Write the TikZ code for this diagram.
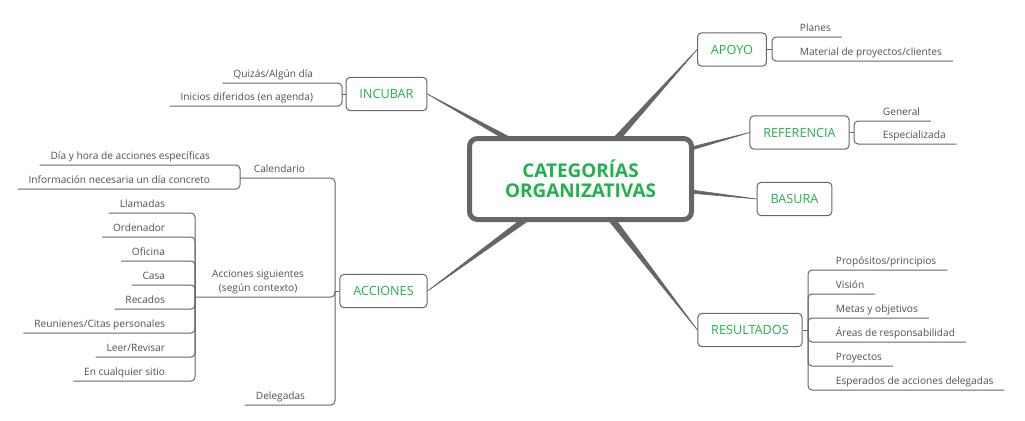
\documentclass[tikz,border=0pt]{standalone}
\usepackage{fontspec}
\setmainfont{Open Sans}
\usetikzlibrary{calc,backgrounds}
\definecolor{linkgray}{HTML}{666666}
\definecolor{leafgray}{HTML}{505050}
\definecolor{mapgreen}{HTML}{22B14C}
\tikzset{
  core/.style={draw=linkgray, line width=3.75pt, rounded corners=6pt, fill=white,
    minimum width=166.5pt, minimum height=60.75pt, inner sep=0pt, align=center,
    text=mapgreen, font=\fontsize{14.2}{15}\selectfont\bfseries},
  branch/.style={draw=linkgray, line width=0.75pt, rounded corners=3pt, fill=white,
    minimum height=25pt, inner xsep=10pt, text=mapgreen, font=\fontsize{9.5}{11}\selectfont},
  leaf/.style={inner xsep=8pt, inner ysep=2pt, text=leafgray, font=\fontsize{7.6}{10.5}\selectfont},
  leafL/.style={leaf, anchor=south east, text height=5.5pt, text depth=2pt},
  leafR/.style={leaf, anchor=south west, text height=5.5pt, text depth=2pt},
  twig/.style={draw=linkgray, line width=0.75pt, rounded corners=3pt},
  wedge/.style={fill=linkgray, draw=linkgray, line width=0.5pt, line join=round},
}
\newcommand{\wedgeto}[2]{\fill[wedge] ($(#1)!3.2pt!90:(#2)$) -- (#2) -- ($(#1)!3.2pt!-90:(#2)$) -- cycle;}
\begin{document}
\begin{tikzpicture}[x=0.75pt, y=-0.75pt]
    \useasboundingbox (0,0) rectangle (1025,421);
    % centre
    \node[core] (core) at (580.5,179) {CATEGORÍAS\\ORGANIZATIVAS};

    % incubar
    \node[branch] (incubar) at (386.5,94) {INCUBAR};
    \coordinate (incK) at (342,94);
    \node[leafL] (quizas) at (324,83) {Quizás/Algún día};
    \node[leafL] (inicios) at (324,106) {Inicios diferidos (en agenda)};
    \foreach \k in {quizas,inicios}
        \draw[twig] (\k.south west) -- (\k.south -| incK) -- (incK);
    \draw[twig] (incK) -- (incubar.west);

    % acciones
    \node[branch] (acciones) at (383.5,291) {ACCIONES};
    \coordinate (accK) at (335,291);
    \draw[twig] (accK) -- (acciones.west);

    \node[leafL] (calend) at (316,178) {Calendario};
    \coordinate (calK) at (240,178);
    \draw[twig] (calK) -- (calK -| accK) -- (accK);
    \node[leafL] (diahora) at (221,165) {Día y hora de acciones específicas};
    \node[leafL] (infonec) at (221,189) {Información necesaria un día concreto};
    \foreach \k in {diahora,infonec}
        \draw[twig] (\k.south west) -- (\k.south -| calK) -- (calK);

    \node[leaf, anchor=south east, align=center] (acsig) at (315,297) {Acciones siguientes\\(según contexto)};
    \coordinate (sigK) at (195,297);
    \draw[twig] (sigK) -- (sigK -| accK) -- (accK);
    \node[leafL] (llamadas) at (176,213) {Llamadas};
    \node[leafL] (ordenador) at (176,237) {Ordenador};
    \node[leafL] (oficina) at (176,261) {Oficina};
    \node[leafL] (casa) at (176,285) {Casa};
    \node[leafL] (recados) at (176,309) {Recados};
    \node[leafL] (reuniones) at (176,333) {Reunienes/Citas personales};
    \node[leafL] (leer) at (176,357) {Leer/Revisar};
    \node[leafL] (sitio) at (176,381) {En cualquier sitio};
    \foreach \k in {llamadas,ordenador,oficina,casa,recados,reuniones,leer,sitio}
        \draw[twig] (\k.south west) -- (\k.south -| sigK) -- (sigK);

    \node[leafL] (delegadas) at (316,405) {Delegadas};
    \draw[twig] (delegadas.south west) -- (delegadas.south -| accK) -- (accK);

    % apoyo
    \node[branch] (apoyo) at (732,49.5) {APOYO};
    \coordinate (apoK) at (772,49.5);
    \draw[twig] (apoyo.east) -- (apoK);
    \node[leafR] (planes) at (789,37) {Planes};
    \node[leafR] (material) at (789,61) {Material de proyectos/clientes};
    \foreach \k in {planes,material}
        \draw[twig] (apoK) -- (\k.south -| apoK) -- (\k.south east);

    % referencia
    \node[branch] (referencia) at (799.5,132.5) {REFERENCIA};
    \coordinate (refK) at (854,132.5);
    \draw[twig] (referencia.east) -- (refK);
    \node[leafR] (general) at (872,121) {General};
    \node[leafR] (especial) at (872,144) {Especializada};
    \foreach \k in {general,especial}
        \draw[twig] (refK) -- (\k.south -| refK) -- (\k.south east);

    % basura
    \node[branch] (basura) at (794.5,199) {BASURA};

    % resultados
    \node[branch] (resultados) at (750,330) {RESULTADOS};
    \coordinate (resK) at (808,330);
    \draw[twig] (resultados.east) -- (resK);
    \node[leafR] (propositos) at (825,270) {Propósitos/principios};
    \node[leafR] (vision) at (825,294) {Visión};
    \node[leafR] (metas) at (825,318) {Metas y objetivos};
    \node[leafR] (areas) at (825,342) {Áreas de responsabilidad};
    \node[leafR] (proyectos) at (825,366) {Proyectos};
    \node[leafR] (esperados) at (825,390) {Esperados de acciones delegadas};
    \foreach \k in {propositos,vision,metas,areas,proyectos,esperados}
        \draw[twig] (resK) -- (\k.south -| resK) -- (\k.south east);

    % thick links from the centre
    \begin{scope}[on background layer]
        \foreach \b/\a in {incubar/east,acciones/east,apoyo/west,referencia/west,basura/west,resultados/west}
            {\wedgeto{core.center}{\b.\a}}
    \end{scope}
\end{tikzpicture}
\end{document}
